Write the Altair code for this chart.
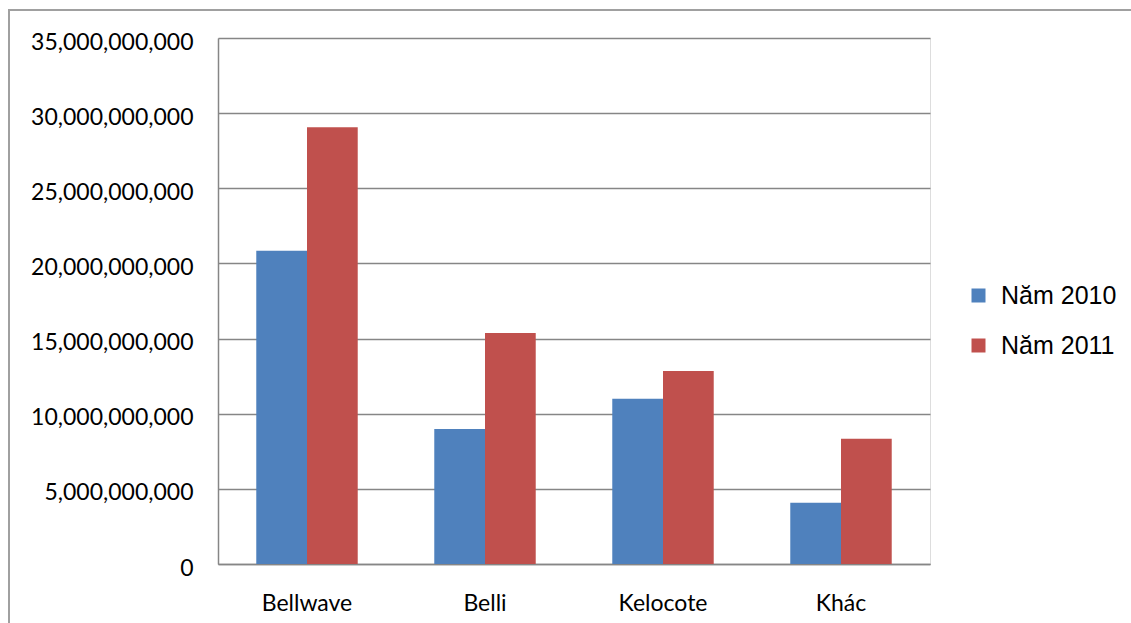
import altair as alt
import pandas as pd

categories = ["Bellwave", "Belli", "Kelocote", "Khác"]
years = ["Năm 2010", "Năm 2011"]
values_2010 = [20850000000, 8990000000, 10990000000, 4080000000]
values_2011 = [29060000000, 15370000000, 12850000000, 8330000000]
y_ticks = [0, 5e9, 10e9, 15e9, 20e9, 25e9, 30e9, 35e9]

rows = []
for c, v in zip(categories, values_2010):
    rows.append({"cat": c, "year": years[0], "value": v})
for c, v in zip(categories, values_2011):
    rows.append({"cat": c, "year": years[1], "value": v})
df = pd.DataFrame(rows)

W, H = 712, 526

bars = alt.Chart(df).mark_bar().encode(
    x=alt.X("cat:N", sort=categories, title=None,
            scale=alt.Scale(paddingInner=0.43, paddingOuter=0.215),
            axis=alt.Axis(labelAngle=0, labelFont="Lato", labelFontSize=23,
                          labelColor="#000000", labelPadding=28, ticks=False,
                          domainColor="#868686", domainWidth=1.5, grid=False)),
    xOffset=alt.XOffset("year:N", sort=years, scale=alt.Scale(paddingInner=0, paddingOuter=0)),
    y=alt.Y("value:Q", title=None,
            scale=alt.Scale(domain=[0, 35e9], nice=False),
            axis=alt.Axis(values=y_ticks, format=",.0f", labelFont="Lato",
                          labelFontSize=23, labelColor="#000000", labelPadding=25,
                          ticks=False, labelOffset=4, domainColor="#868686",
                          domainWidth=1.5, gridColor="#868686", gridWidth=1.5)),
    color=alt.Color("year:N", sort=years,
                    scale=alt.Scale(domain=years, range=["#4F81BD", "#C0504D"]),
                    legend=alt.Legend(title=None, orient="none", legendX=748, legendY=245,
                                      symbolType="square", symbolSize=196,
                                      symbolStrokeWidth=0, labelFont="Liberation Sans",
                                      labelFontSize=25, labelColor="#000000",
                                      labelOffset=10, rowPadding=24)),
)

border = alt.Chart(pd.DataFrame({"k": [0]})).mark_rect(
    filled=False, stroke="#A0A0A0", strokeWidth=2, clip=False
).encode(
    x=alt.value(-209), x2=alt.value(W + 300), y=alt.value(-28), y2=alt.value(H + 300)
)

chart = alt.layer(border, bars).properties(
    width=W, height=H,
    autosize=alt.AutoSizeParams(type="none"),
    padding={"left": 218, "top": 38, "right": 201, "bottom": 59},
).configure_view(stroke=None).configure(background="#ffffff")

chart.save("out.html", embed_options={"renderer": "svg", "actions": False})
